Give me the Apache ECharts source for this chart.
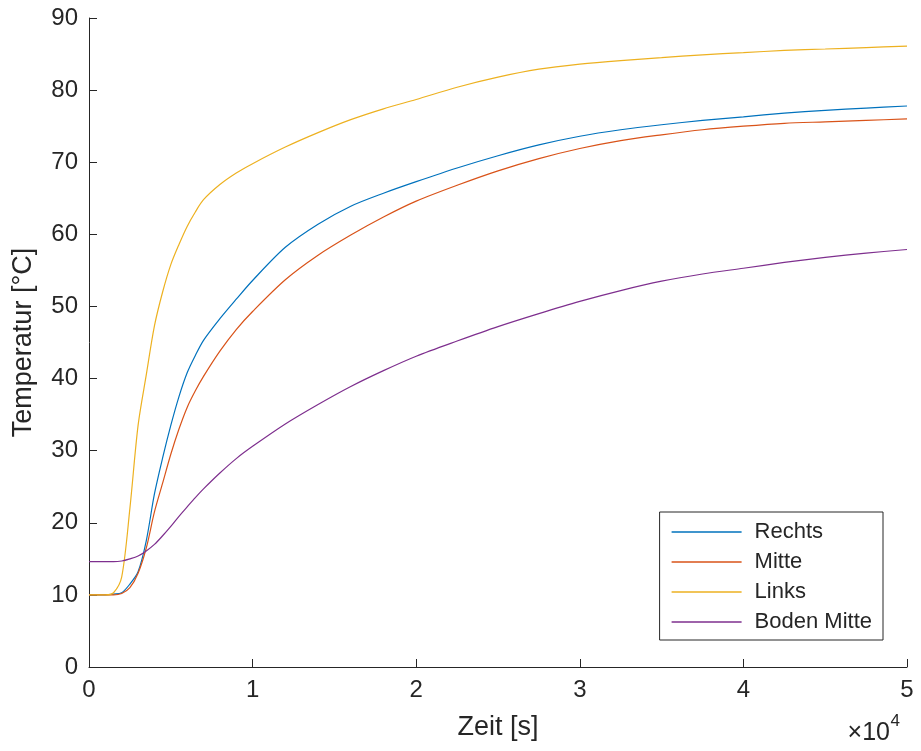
<!DOCTYPE html>
<html>
<head>
<meta charset="utf-8">
<script src="https://cdn.jsdelivr.net/npm/echarts@6/dist/echarts.min.js"></script>
<style>html,body{margin:0;padding:0;background:#fff}#c{width:921px;height:751px}</style>
</head>
<body>
<div id="c"></div>
<script>
const seriesNames = ['Rechts', 'Mitte', 'Links', 'Boden Mitte'];
const times = [0, 1000, 1500, 2000, 2500, 3000, 3500, 4000, 4500, 5000, 5500, 6000, 6500, 7000, 8000, 9000, 10000, 12000, 14000, 16000, 18000, 20000, 22500, 25000, 27500, 30000, 32500, 35000, 37500, 40000, 42500, 45000, 47500, 50000];
const rechts = [10, 10, 10.1, 10.3, 11.5, 13.2, 17.5, 24, 29, 33.5, 37.5, 40.8, 43.2, 45.3, 48.3, 51, 53.6, 58.2, 61.4, 63.9, 65.7, 67.3, 69.2, 70.9, 72.4, 73.6, 74.5, 75.2, 75.8, 76.3, 76.8, 77.2, 77.5, 77.8];
const mitte = [10, 10, 10, 10.2, 11, 13, 16.5, 21.5, 25.5, 29.5, 33, 36, 38.3, 40.3, 43.8, 46.8, 49.3, 53.7, 57.1, 59.9, 62.4, 64.6, 66.8, 68.8, 70.5, 71.9, 73, 73.8, 74.5, 75, 75.4, 75.6, 75.8, 76];
const links = [10, 10, 10.3, 12.5, 22, 33.5, 40.5, 47.3, 52, 55.8, 58.6, 61.1, 63.1, 64.8, 66.9, 68.5, 69.8, 72.1, 74.1, 75.9, 77.4, 78.7, 80.4, 81.8, 82.9, 83.6, 84.1, 84.5, 84.9, 85.2, 85.5, 85.7, 85.9, 86.1];
const boden = [14.6, 14.6, 14.6, 14.7, 15, 15.4, 16.1, 17, 18.2, 19.5, 20.9, 22.2, 23.5, 24.7, 26.9, 28.9, 30.6, 33.7, 36.4, 38.9, 41.1, 43.1, 45.2, 47.2, 49, 50.7, 52.2, 53.5, 54.5, 55.3, 56.1, 56.8, 57.4, 57.9];
const xTickLabels = ['0', '1', '2', '3', '4', '5'];
const yTickLabels = ['0', '10', '20', '30', '40', '50', '60', '70', '80', '90'];
const colors = ['#0072BD', '#D95319', '#EDB120', '#7E2F8E'];

const values = [rechts, mitte, links, boden];
const font = '"Liberation Sans", Arial, Helvetica, sans-serif';
const axisColor = '#262626';

const chart = echarts.init(document.getElementById('c'), null, {renderer: 'canvas'});
chart.setOption({
  animation: false,
  backgroundColor: '#fff',
  color: colors,
  grid: {left: 89, right: 14, top: 18, bottom: 84, containLabel: false},
  legend: {
    show: true,
    orient: 'vertical',
    right: 38,
    top: 512,
    padding: [9, 11, 7, 12],
    itemWidth: 70,
    itemHeight: 1.3,
    itemGap: 8,
    borderColor: axisColor,
    borderWidth: 1,
    backgroundColor: '#fff',
    data: seriesNames.map(n => ({name: n, icon: 'rect'})),
    textStyle: {fontFamily: font, fontSize: 22, color: axisColor, padding: [0, 0, 0, 8]}
  },
  xAxis: {
    type: 'value', min: 0, max: 50000, interval: 10000,
    name: 'Zeit [s]', nameLocation: 'middle', nameGap: 47,
    nameTextStyle: {fontFamily: font, fontSize: 27, color: axisColor},
    axisLine: {lineStyle: {color: axisColor, width: 1}},
    axisTick: {inside: true, length: 8, lineStyle: {color: axisColor}},
    axisLabel: {margin: 11, fontFamily: font, fontSize: 24, color: axisColor,
      formatter: v => xTickLabels[Math.round(v / 10000)]},
    splitLine: {show: false}
  },
  yAxis: {
    type: 'value', min: 0, max: 90, interval: 10,
    name: 'Temperatur [°C]', nameLocation: 'middle', nameGap: 52,
    nameTextStyle: {fontFamily: font, fontSize: 27, color: axisColor},
    axisLine: {show: true, lineStyle: {color: axisColor, width: 1}},
    axisTick: {show: true, inside: true, length: 8, lineStyle: {color: axisColor}},
    axisLabel: {margin: 11, fontFamily: font, fontSize: 24, color: axisColor,
      formatter: v => yTickLabels[Math.round(v / 10)]},
    splitLine: {show: false}
  },
  graphic: [
    {type: 'text', right: 31, bottom: 5, style: {text: '×10', fontFamily: font, fontSize: 25, fill: axisColor}},
    {type: 'text', right: 21, bottom: 21, style: {text: '4', fontFamily: font, fontSize: 17, fill: axisColor}}
  ],
  series: values.map((arr, i) => ({
    name: seriesNames[i],
    type: 'line',
    showSymbol: false,
    symbol: 'none',
    smooth: 0.3,
    lineStyle: {width: 1.2, color: colors[i]},
    itemStyle: {color: colors[i]},
    data: times.map((t, j) => [t, arr[j]])
  }))
});
</script>
</body>
</html>
